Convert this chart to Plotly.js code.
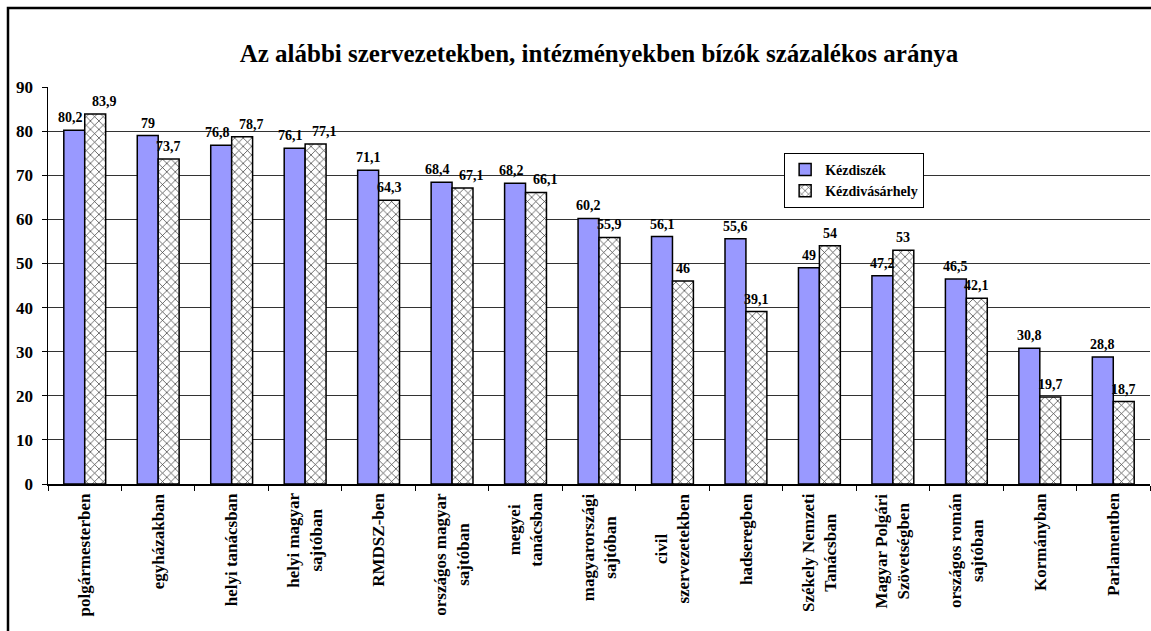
<!DOCTYPE html>
<html>
<head>
<meta charset="utf-8">
<script src="https://cdn.plot.ly/plotly-3.0.1.min.js"></script>
<style>html,body{margin:0;padding:0;background:#fff;}#chart{width:1151px;height:631px;}</style>
</head>
<body>
<div id="chart"></div>
<script>
const categories = ["polgármesterben","egyházakban","helyi tanácsban","helyi magyar sajtóban","RMDSZ-ben","országos magyar sajtóban","megyei tanácsban","magyarországi sajtóban","civil szervezetekben","hadseregben","Székely Nemzeti Tanácsban","Magyar Polgári Szövetségben","országos román sajtóban","Kormányban","Parlamentben"];
const tickLabels = ["polgármesterben","egyházakban","helyi tanácsban","helyi magyar<br>sajtóban","RMDSZ-ben","országos magyar<br>sajtóban","megyei<br>tanácsban","magyarországi<br>sajtóban","civil<br>szervezetekben","hadseregben","Székely Nemzeti<br>Tanácsban","Magyar Polgári<br>Szövetségben","országos román<br>sajtóban","Kormányban","Parlamentben"];
const kezdiszek = [80.2,79,76.8,76.1,71.1,68.4,68.2,60.2,56.1,55.6,49,47.2,46.5,30.8,28.8];
const kezdivasarhely = [83.9,73.7,78.7,77.1,64.3,67.1,66.1,55.9,46,39.1,54,53,42.1,19.7,18.7];
const seriesNames = ["Kézdiszék","Kézdivásárhely"];
const titleText = "Az alábbi szervezetekben, intézményekben bízók százalékos aránya";

const F = "Liberation Serif";
const BARGAP = 0.43;
const fmt = v => String(v).replace('.', ',');

const traces = [
  {
    type: 'bar', name: seriesNames[0], x: categories, y: kezdiszek,
    marker: {color: '#9999FF', line: {color: '#000', width: 1.5}}
  },
  {
    type: 'bar', name: seriesNames[1], x: categories, y: kezdivasarhely,
    marker: {color: '#ffffff', line: {color: '#000', width: 1.5},
      pattern: {shape: 'x', fgcolor: '#333', bgcolor: '#fff', size: 6, solidity: 0.22}}
  }
];

// half of one bar's width in category units (two bars per group)
const half = (1 - BARGAP) / 4;
const annotations = [];
categories.forEach((c, i) => {
  annotations.push({
    x: i, xref: 'x', y: -0.018, yref: 'paper', yanchor: 'top', xanchor: 'center',
    text: '<b>' + tickLabels[i] + '</b>', textangle: -90, showarrow: false, align: 'center',
    font: {family: F, size: 17, color: '#000'}
  });
  const close = Math.abs(kezdiszek[i] - kezdivasarhely[i]) < 4;
  annotations.push({
    x: i - half, xref: 'x', y: kezdiszek[i], yref: 'y', yanchor: 'bottom', xanchor: 'center',
    xshift: close ? -4 : 0, yshift: 3, showarrow: false,
    text: '<b>' + fmt(kezdiszek[i]) + '</b>', font: {family: F, size: 14, color: '#000'}
  });
  annotations.push({
    x: i + half, xref: 'x', y: kezdivasarhely[i], yref: 'y', yanchor: 'bottom', xanchor: 'center',
    xshift: close ? 9 : 0, yshift: 3, showarrow: false,
    text: '<b>' + fmt(kezdivasarhely[i]) + '</b>', font: {family: F, size: 14, color: '#000'}
  });
});

const layout = {
  width: 1151, height: 631,
  margin: {l: 48, r: 1, t: 87, b: 147},
  paper_bgcolor: '#fff', plot_bgcolor: '#fff',
  font: {family: F},
  title: {text: '<b>' + titleText + '</b>', x: 0.5, xref: 'paper', y: 0.916, yref: 'container', yanchor: 'middle',
    font: {family: F, size: 25, color: '#000'}},
  bargap: BARGAP, bargroupgap: 0,
  showlegend: true,
  legend: {x: 0.668, y: 0.834, xanchor: 'left', yanchor: 'top', bgcolor: '#fff',
    bordercolor: '#000', borderwidth: 1, font: {family: F, size: 14, color: '#000', weight: 'bold'},
    tracegroupgap: 0, itemwidth: 30},
  xaxis: {type: 'category', showticklabels: false, ticks: 'outside', tickson: 'boundaries',
    ticklen: 5, tickcolor: '#000', showline: true, linecolor: '#000', linewidth: 1.5,
    showgrid: false, zeroline: false},
  yaxis: {range: [0, 90], dtick: 10, ticks: 'outside', ticklen: 5, tickcolor: '#000',
    showline: true, linecolor: '#000', linewidth: 1.5, showgrid: true, gridcolor: '#333', gridwidth: 1,
    zeroline: false, ticklabelstandoff: 5, tickfont: {family: F, size: 17, color: '#000', weight: 'bold'}},
  annotations: annotations,
  shapes: [{type: 'rect', xref: 'paper', yref: 'paper', x0: -0.0363, x1: 1.003, y0: -0.40, y1: 1.199,
    line: {color: '#000', width: 2.5}, fillcolor: 'rgba(0,0,0,0)', layer: 'above'}]
};

Plotly.newPlot('chart', traces, layout, {displayModeBar: false, staticPlot: true});
</script>
</body>
</html>
